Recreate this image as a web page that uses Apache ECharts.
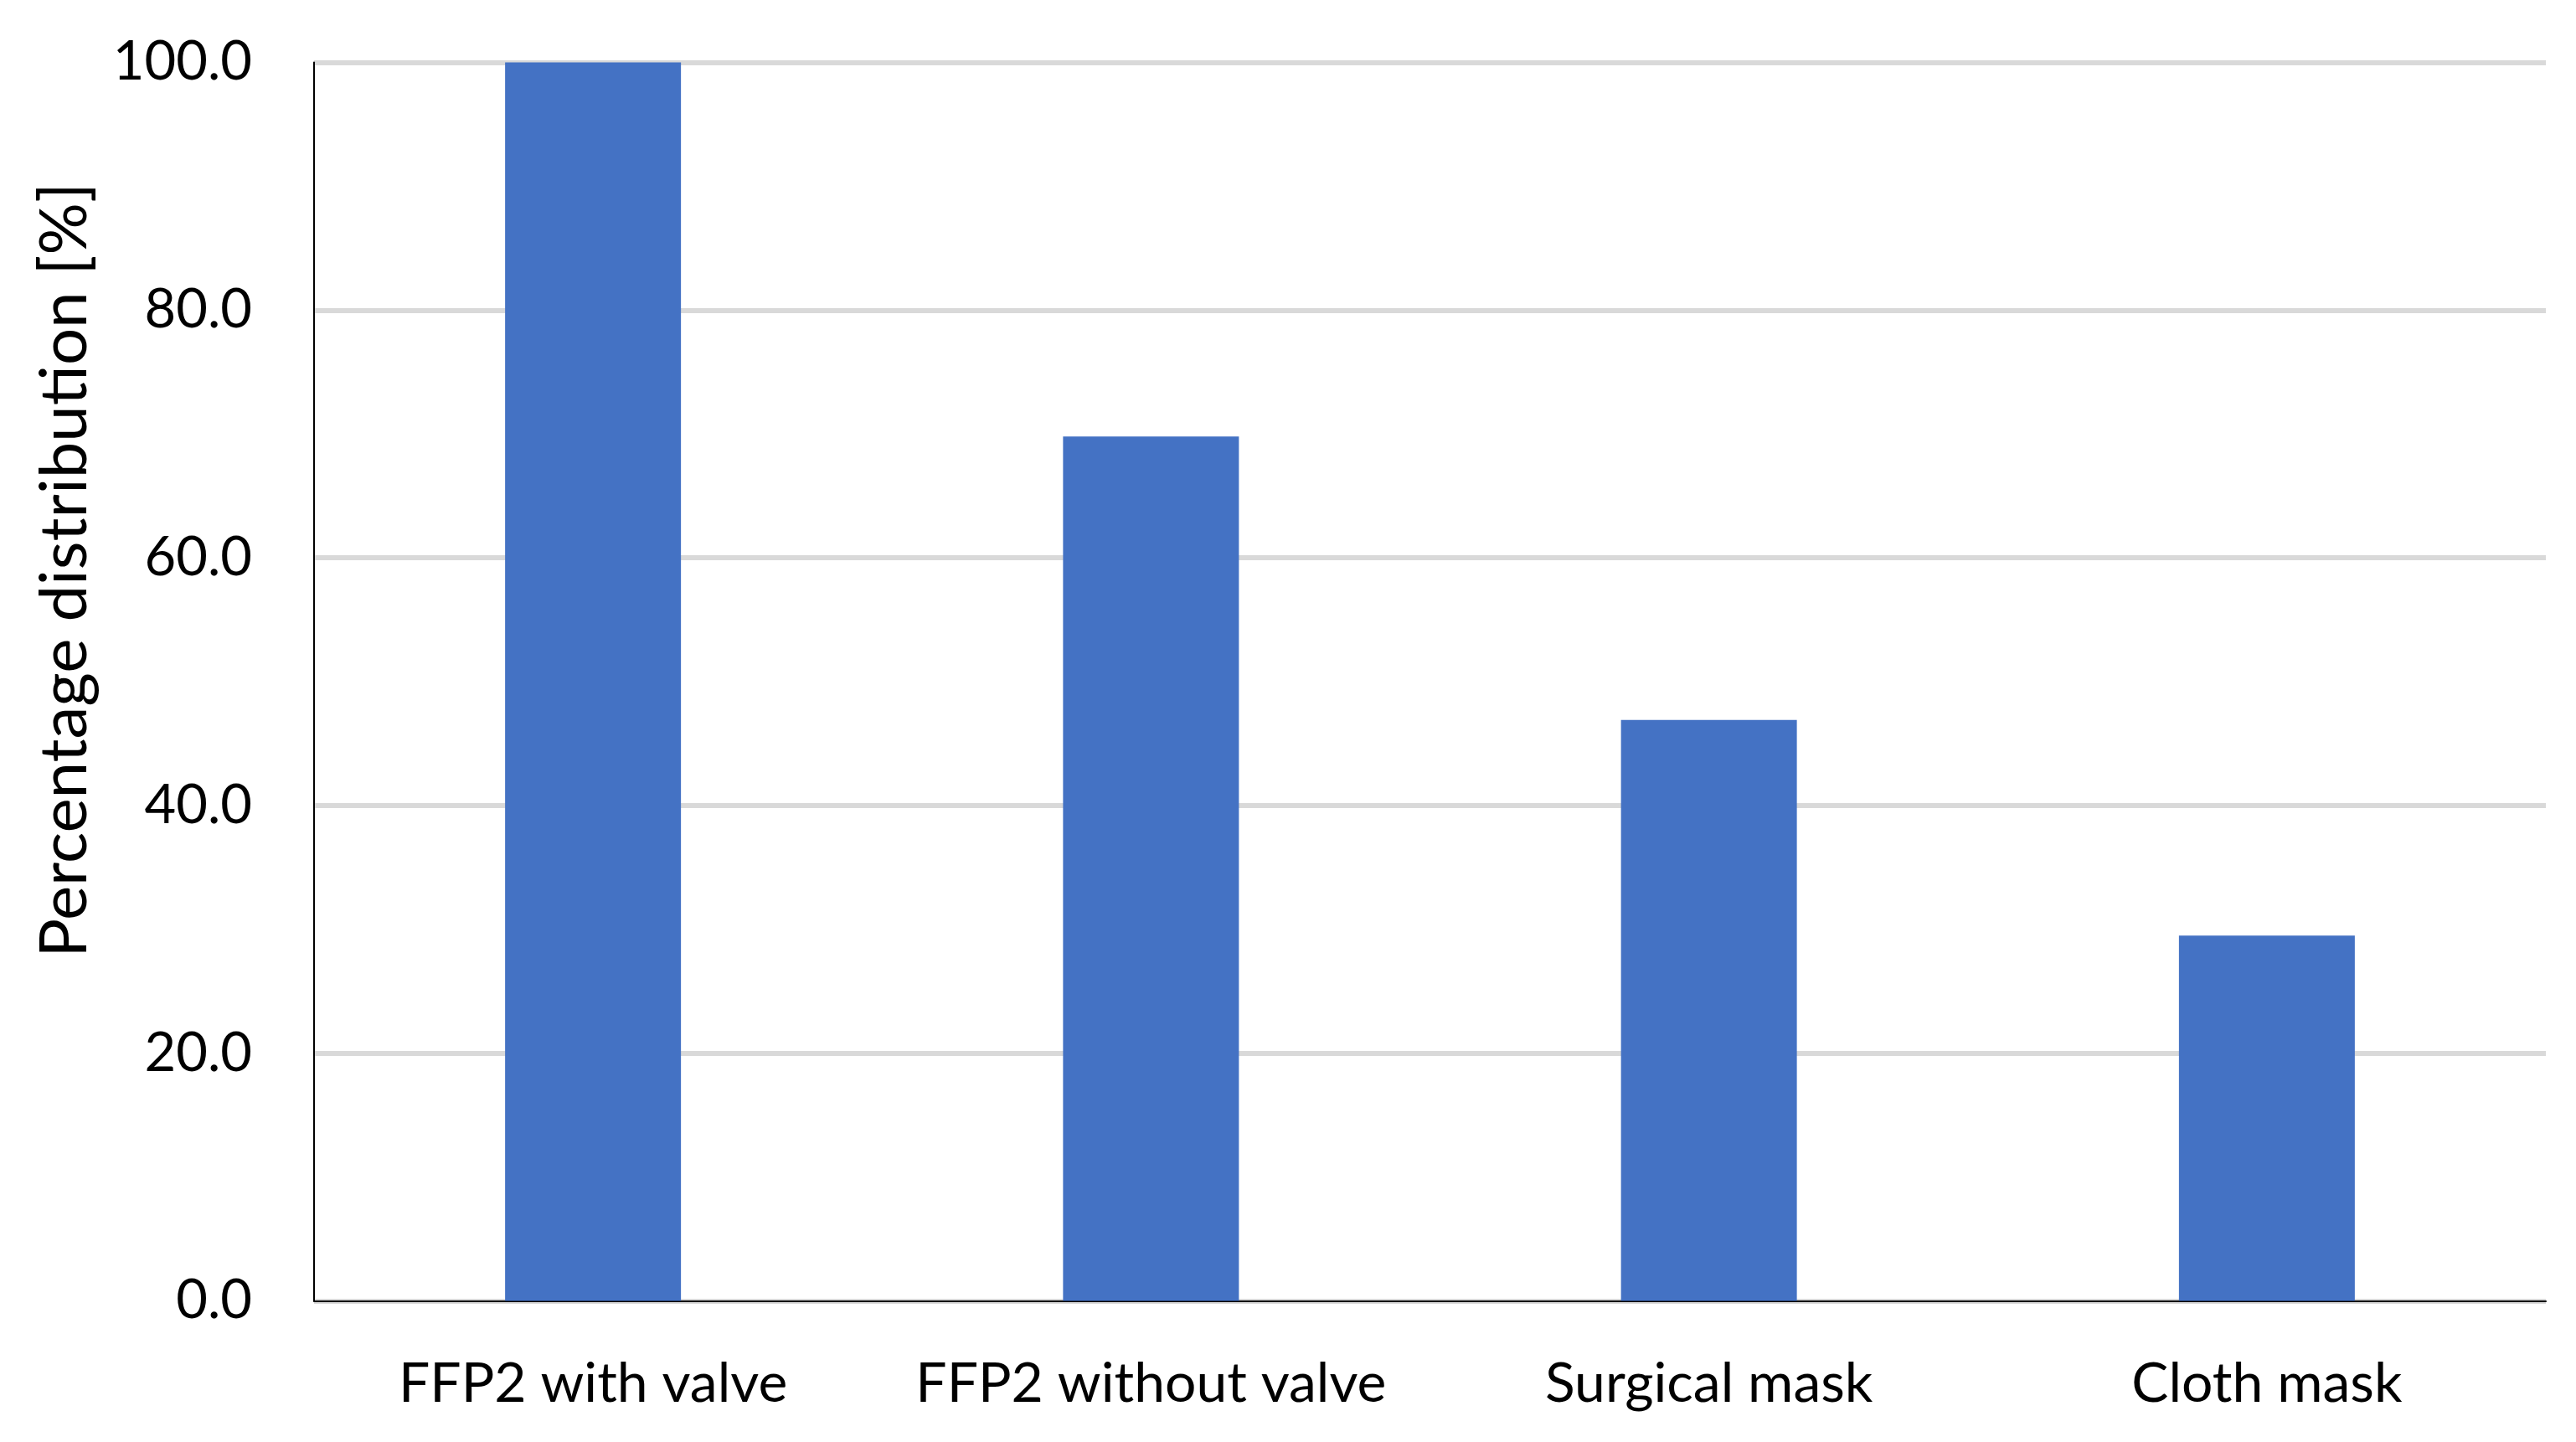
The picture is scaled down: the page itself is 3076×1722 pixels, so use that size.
<!DOCTYPE html>
<html>
<head>
<meta charset="utf-8">
<script src="https://cdn.jsdelivr.net/npm/echarts@6/dist/echarts.min.js"></script>
<style>
html,body{margin:0;padding:0;background:#fff;}
#chart{width:3076px;height:1722px;}
</style>
</head>
<body>
<div id="chart"></div>
<script>
const categories = ["FFP2 with valve", "FFP2 without valve", "Surgical mask", "Cloth mask"];
const values = [100.0, 69.8, 46.9, 29.5];
const yTicks = { min: 0, max: 100, interval: 20 };
const yTitle = "Percentage distribution [%]";

const FONT = "Lato";
const chart = echarts.init(document.getElementById('chart'), null, { renderer: 'canvas' });
chart.setOption({
  backgroundColor: '#ffffff',
  animation: false,
  grid: { left: 375, right: 36, top: 74.5, bottom: 168.5, containLabel: false },
  xAxis: {
    type: 'category',
    data: categories,
    axisLine: { show: true, lineStyle: { color: '#000000', width: 2 } },
    axisTick: { show: false },
    axisLabel: { color: '#000000', fontFamily: FONT, fontSize: 66, margin: 66, interval: 0 },
    splitLine: { show: false }
  },
  yAxis: {
    type: 'value',
    min: yTicks.min, max: yTicks.max, interval: yTicks.interval,
    name: yTitle,
    nameLocation: 'middle',
    nameRotate: 90,
    nameGap: 258,
    nameTextStyle: { color: '#000000', fontFamily: FONT, fontSize: 78, padding: [0, 0, 0, 266] },
    axisLine: { show: true, lineStyle: { color: '#000000', width: 2 } },
    axisTick: { show: false },
    axisLabel: { color: '#000000', fontFamily: FONT, fontSize: 65, margin: 74,
      formatter: v => v.toFixed(1) },
    splitLine: { show: true, lineStyle: { color: '#d9d9d9', width: 6 } }
  },
  series: [{
    type: 'bar',
    data: values,
    barWidth: 210,
    itemStyle: { color: '#4472C4' },
    z: 3
  }]
});
</script>
</body>
</html>
